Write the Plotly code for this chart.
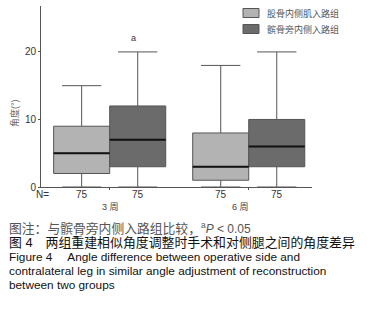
import plotly.graph_objects as go

# ---------------- data ----------------
weeks = ["3 周", "6 周"]
groups = ["股骨内侧肌入路组", "髌骨旁内侧入路组"]
g1_low = [0, 0]
g1_q1 = [2, 1]
g1_med = [5, 3]
g1_q3 = [9, 8]
g1_high = [15, 18]
g2_low = [0, 0]
g2_q1 = [3, 3]
g2_med = [7, 6]
g2_q3 = [12, 10]
g2_high = [20, 20]
n_g1 = [75, 75]
n_g2 = [75, 75]
sig_marks = ["a", ""]
yticks = [0, 10, 20]

# ---------------- style / layout helpers ----------------
W, H = 367, 320
L, R, T, B = 41, 312, 6, 187  # plot area in pixels
colors = ["#b3b3b3", "#6b6b6b"]
edge = "#555555"

def px_x(px):
    return (px - L) / (R - L)

def px_y(py):
    return (B - py) / (B - T)

fig = go.Figure()
stats = [
    (g1_low, g1_q1, g1_med, g1_q3, g1_high),
    (g2_low, g2_q1, g2_med, g2_q3, g2_high),
]
for i, (lo, q1, md, q3, hi) in enumerate(stats):
    fig.add_trace(go.Box(
        x=weeks, lowerfence=lo, q1=q1, median=md, q3=q3, upperfence=hi,
        name=groups[i], offsetgroup=f"g{i}", fillcolor=colors[i],
        line=dict(color=edge, width=1), whiskerwidth=0.7,
        showlegend=False, hoverinfo="skip",
    ))
for i, (lo, q1, md, q3, hi) in enumerate(stats):
    fig.add_trace(go.Box(
        x=weeks, lowerfence=md, q1=md, median=md, q3=md, upperfence=md,
        name=groups[i] + " median", offsetgroup=f"g{i}",
        fillcolor="rgba(0,0,0,0)", line=dict(color="#111111", width=2),
        whiskerwidth=0, showlegend=False, hoverinfo="skip",
    ))

box_off = 0.2015
annotations = []
# N labels
annotations.append(dict(x=px_x(42), y=px_y(195), xref="paper", yref="paper",
                        text="N=", showarrow=False, xanchor="center", yanchor="middle",
                        font=dict(size=10, color="#333")))
for k in range(len(weeks)):
    for off, nv in ((-box_off, n_g1[k]), (box_off, n_g2[k])):
        annotations.append(dict(x=k + off, y=px_y(195), xref="x", yref="paper",
                                text=str(nv), showarrow=False, xanchor="center",
                                yanchor="middle", font=dict(size=10, color="#333")))
    if sig_marks[k]:
        annotations.append(dict(x=k + box_off - 0.03, y=g2_high[k] + 2.1, xref="x", yref="y",
                                text=sig_marks[k], showarrow=False, xanchor="center",
                                yanchor="middle", font=dict(size=9, color="#333")))
week_px = [110, 240]
for k, w in enumerate(weeks):
    annotations.append(dict(x=px_x(week_px[k]), y=px_y(207), xref="paper", yref="paper",
                            text=w, showarrow=False, xanchor="center", yanchor="middle",
                            font=dict(size=9, color="#444")))
# y title
annotations.append(dict(x=px_x(15), y=px_y(113), xref="paper", yref="paper",
                        text="角度(°)", textangle=-90, showarrow=False,
                        xanchor="center", yanchor="middle",
                        font=dict(size=9, color="#666")))
# legend (manual)
shapes = []
for i, g in enumerate(groups):
    yc = 13 + 16 * i
    shapes.append(dict(type="rect", xref="paper", yref="paper",
                       x0=px_x(243), x1=px_x(259), y0=px_y(yc - 4.5), y1=px_y(yc + 4.5),
                       fillcolor=colors[i], line=dict(color=edge, width=1)))
    annotations.append(dict(x=px_x(265), y=px_y(yc), xref="paper", yref="paper",
                            text=g, showarrow=False, xanchor="left", yanchor="middle",
                            font=dict(size=9, color="#555")))
# caption
cap_font = "Liberation Sans, Arial, Noto Sans CJK SC, sans-serif"
captions = [
    ('<span style="font-size:12.8px">图注：与髌骨旁内侧入路组比较，</span><sup>a</sup><i>P</i> &lt; 0.05', 228, 12, "#555"),
    ("图 4　两组重建相似角度调整时手术和对侧腿之间的角度差异", 242, 12.9, "#111"),
    ("Figure 4\u3000\u00a0Angle difference between operative side and", 257, 11.8, "#111"),
    ("contralateral leg in similar angle adjustment of reconstruction", 271, 11.8, "#111"),
    ("between two groups", 285, 11.8, "#111"),
]
for txt, py, fs, col in captions:
    annotations.append(dict(x=px_x(7), y=px_y(py), xref="paper", yref="paper",
                            text=txt, showarrow=False, xanchor="left", yanchor="middle",
                            font=dict(size=fs, color=col, family=cap_font)))

fig.update_layout(
    width=W, height=H,
    margin=dict(l=L, r=W - R, t=T, b=H - B, pad=0),
    paper_bgcolor="white", plot_bgcolor="white",
    boxmode="group", boxgap=0.194, boxgroupgap=0,
    font=dict(family="Liberation Sans, Arial, Noto Sans CJK SC, sans-serif", size=10, color="#333"),
    xaxis=dict(type="category", range=[-0.494, 1.455], showgrid=False, zeroline=False,
               showline=True, linecolor="#555", linewidth=1, ticks="outside", ticklen=2,
               tickcolor="#555", showticklabels=False),
    yaxis=dict(range=[0, 26.8], tickvals=yticks, showgrid=False, zeroline=False,
               showline=True, linecolor="#555", linewidth=1, ticks="outside", ticklen=2,
               tickcolor="#555", tickfont=dict(size=10, color="#333")),
    annotations=annotations, shapes=shapes,
)

fig.write_html("out.html", config={"displayModeBar": False},
               post_script="document.body.style.margin='0';")
